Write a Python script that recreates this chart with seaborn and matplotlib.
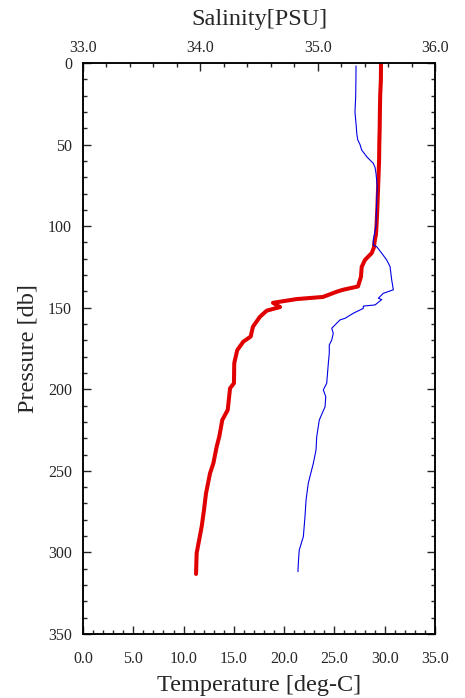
import matplotlib
matplotlib.use("Agg")
import matplotlib.pyplot as plt
import seaborn as sns
from matplotlib.ticker import MultipleLocator, FormatStrFormatter

# ---- data ----
temp_pressure = [0.6, 10, 20, 30, 40, 50, 60, 70, 80, 90, 100, 105, 110, 113, 116.5,
                 120.7, 125, 131, 137, 139, 140.2, 143.4, 144.7, 147, 149.6, 151.8,
                 155.5, 161.6, 167.7, 170.8, 176, 182, 184, 196.3, 199.4, 212.7,
                 218.8, 229, 235.2, 245.4, 251.5, 263.8, 274, 284.2, 298.5, 300.4, 313.2]
temperature = [29.63, 29.62, 29.55, 29.52, 29.50, 29.46, 29.44, 29.38, 29.32, 29.26,
               29.18, 29.13, 28.98, 28.93, 28.71, 28.04, 27.71, 27.64, 27.34, 25.85,
               25.23, 23.86, 21.25, 18.89, 19.59, 18.27, 17.60, 16.90, 16.67, 15.94,
               15.34, 15.11, 15.04, 15.01, 14.62, 14.39, 13.85, 13.55, 13.29, 12.96,
               12.63, 12.23, 12.03, 11.80, 11.36, 11.30, 11.24]

sal_pressure = [1.8, 10, 20.6, 30, 39, 43, 47, 50, 53.3, 57.4, 59.5, 61.5, 64, 67.6,
                75.8, 80, 100, 108.5, 111.6, 112.6, 116.6, 120.7, 124.8, 133, 139,
                141.2, 144.2, 145, 148.3, 149, 150.4, 153.4, 156.5, 157.5, 162.6,
                165.7, 169.8, 172.8, 178, 184, 196.3, 200.4, 204.5, 210.7, 218.8,
                229, 237.2, 245.4, 257.6, 267.9, 278, 290.3, 298.5, 306.7, 311.8]
salinity = [35.327, 35.326, 35.324, 35.318, 35.329, 35.333, 35.341, 35.361, 35.375,
            35.418, 35.446, 35.474, 35.489, 35.497, 35.508, 35.505, 35.497, 35.474,
            35.474, 35.503, 35.546, 35.588, 35.617, 35.631, 35.645, 35.559, 35.517,
            35.546, 35.489, 35.389, 35.389, 35.304, 35.233, 35.190, 35.120, 35.133,
            35.120, 35.099, 35.099, 35.091, 35.077, 35.048, 35.069, 35.063, 35.014,
            34.992, 34.986, 34.963, 34.920, 34.901, 34.892, 34.878, 34.843, 34.835,
            34.832]

sns.set_style("ticks")
plt.rcParams['font.family'] = ['Liberation Serif', 'DejaVu Serif']
plt.rcParams['axes.linewidth'] = 1.1

fig = plt.figure(figsize=(4.65, 6.98), dpi=100)
ax = fig.add_axes([83 / 465, 1 - 634 / 698, 352 / 465, 571 / 698])
ax2 = ax.twiny()

# temperature on the bottom axis, salinity on the top axis
sns.lineplot(x=temperature, y=temp_pressure, ax=ax, sort=False, estimator=None,
             color='#e00000', linewidth=2.9)
sns.lineplot(x=salinity, y=sal_pressure, ax=ax2, sort=False, estimator=None,
             color='#0000e6', linewidth=0.8)

ax.set_xlim(0, 35)
ax2.set_xlim(33, 36)
ax.set_ylim(350, 0)

ax.xaxis.set_major_locator(MultipleLocator(5))
ax.xaxis.set_minor_locator(MultipleLocator(1))
ax.xaxis.set_major_formatter(FormatStrFormatter('%.1f'))
ax2.xaxis.set_major_locator(MultipleLocator(1))
ax2.xaxis.set_minor_locator(MultipleLocator(0.2))
ax2.xaxis.set_major_formatter(FormatStrFormatter('%.1f'))
ax.yaxis.set_major_locator(MultipleLocator(50))
ax.yaxis.set_minor_locator(MultipleLocator(10))

ax.tick_params(axis='x', which='both', direction='in', top=False, bottom=True,
               labelsize=11.5, pad=12)
ax.tick_params(axis='y', which='both', direction='in', left=True, right=True,
               labelsize=11.5, pad=8)
ax2.tick_params(axis='x', which='both', direction='in', top=True, bottom=False,
                labelsize=11.5, pad=5)
for a in (ax, ax2):
    a.tick_params(which='major', length=6, width=1)
    a.tick_params(which='minor', length=3, width=1)
    for s in a.spines.values():
        s.set_visible(True)
        s.set_color('black')

ax.set_xlabel('Temperature [deg-C]', fontsize=17.5, labelpad=6)
ax2.set_xlabel('Salinity[PSU]', fontsize=17.5, labelpad=11)
ax.set_ylabel('Pressure [db]', fontsize=17.5, labelpad=7)

fig.savefig('out.png', dpi=100)
